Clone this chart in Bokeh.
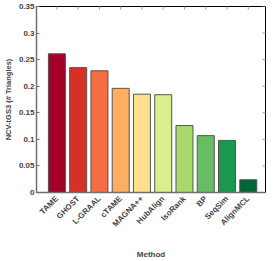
from bokeh.plotting import figure
from bokeh.models import Range1d, LinearAxis, FixedTicker, ColumnDataSource
from bokeh.embed import file_html
from bokeh.resources import INLINE
import math

methods = ["TAME", "GHOST", "L-GRAAL", "cTAME", "MAGNA++", "HubAlign", "IsoRank", "BP", "SeqSim", "AlignMCL"]
values = [0.261, 0.235, 0.229, 0.196, 0.185, 0.184, 0.126, 0.107, 0.098, 0.024]
colors = ["#a50026", "#d73027", "#f46d43", "#fdae61", "#fee08b", "#d9ef8b", "#a6d96a", "#66bd63", "#1a9850", "#006837"]
yticks = [0, 0.05, 0.1, 0.15, 0.2, 0.25, 0.3, 0.35]
ytick_labels = ["0", "0.05", "0.1", "0.15", "0.2", "0.25", "0.3", "0.35"]

xpos = list(range(len(methods)))
src = ColumnDataSource(dict(x=xpos, top=values, color=colors, name=methods))

FONT = "Liberation Sans"
GRAY = "#707070"
X0, X1 = -0.96, 9.81
Y0, Y1 = yticks[0], yticks[-1]

p = figure(width=266, height=261, output_backend="svg", toolbar_location=None,
           x_range=Range1d(X0, X1), y_range=Range1d(Y0, Y1),
           x_axis_type=None, y_axis_type=None,
           min_border_left=31, min_border_right=1, min_border_top=6, min_border_bottom=68)
p.xgrid.visible = False
p.ygrid.visible = False
p.outline_line_color = "black"
p.outline_line_width = 1
p.background_fill_color = "white"
p.border_fill_color = "white"

p.vbar(x="x", top="top", width=0.8, fill_color="color", line_color="#555555", line_width=1, source=src)

# inward ticks mirrored on the top and right edges of the box
p.scatter(x=xpos, y=[Y1] * len(xpos), marker="dash", angle=math.pi / 2, size=6,
          line_color="#999999", line_width=1)
p.scatter(x=[X1] * len(yticks), y=yticks, marker="dash", size=6,
          line_color="#999999", line_width=1)

xt = FixedTicker(ticks=xpos)
yt = FixedTicker(ticks=yticks)

xb = LinearAxis(ticker=xt, axis_label="Method")
xb.major_label_overrides = {i: m for i, m in zip(xpos, methods)}
xb.major_label_orientation = math.pi / 4
xb.major_label_text_font = FONT
xb.major_label_text_font_style = "bold"
xb.major_label_text_font_size = "8px"
xb.major_label_standoff = 5
xb.axis_label_text_font = FONT
xb.axis_label_text_font_style = "bold"
xb.axis_label_text_font_size = "8px"
xb.axis_label_standoff = 15
xb.axis_line_color = GRAY
xb.axis_line_width = 1.5
xb.major_tick_in = 0
xb.major_tick_out = 0
xb.minor_tick_line_color = None
p.add_layout(xb, "below")

yl = LinearAxis(ticker=yt, axis_label="NCV-tGS3 (# Triangles)")
yl.major_label_overrides = {t: s for t, s in zip(yticks, ytick_labels)}
yl.major_label_text_font = FONT
yl.major_label_text_font_style = "bold"
yl.major_label_text_font_size = "8px"
yl.major_label_standoff = 2
yl.axis_label_text_font = FONT
yl.axis_label_text_font_style = "bold"
yl.axis_label_text_font_size = "7.5px"
yl.axis_label_standoff = 3
yl.axis_line_color = GRAY
yl.axis_line_width = 1.5
yl.major_tick_line_color = GRAY
yl.major_tick_in = 3
yl.major_tick_out = 0
yl.minor_tick_line_color = None
p.add_layout(yl, "left")

open("out.html", "w").write(file_html(p, INLINE))
